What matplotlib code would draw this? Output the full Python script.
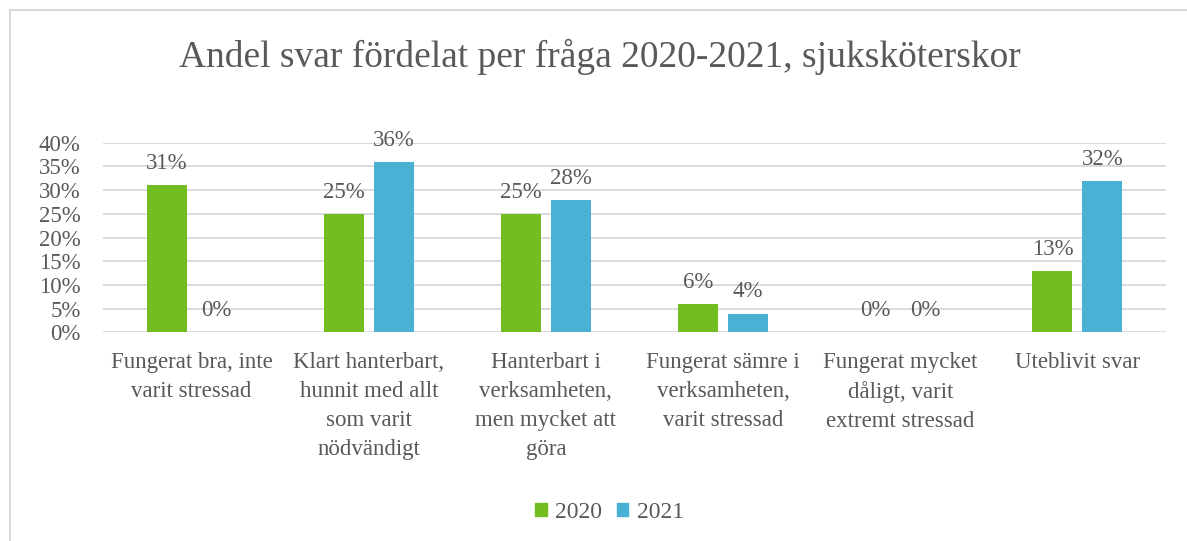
import matplotlib.pyplot as plt
from matplotlib.lines import Line2D
from matplotlib.patches import Patch
import numpy as np

plt.rcParams['font.family'] = ['Liberation Serif', 'DejaVu Serif']

categories = [
    "Fungerat bra, inte\nvarit stressad",
    "Klart hanterbart,\nhunnit med allt\nsom varit\nnödvändigt",
    "Hanterbart i\nverksamheten,\nmen mycket att\ngöra",
    "Fungerat sämre i\nverksamheten,\nvarit stressad",
    "Fungerat mycket\ndåligt, varit\nextremt stressad",
    "Uteblivit svar",
]
values_2020 = [31, 25, 25, 6, 0, 13]
values_2021 = [0, 36, 28, 4, 0, 32]
years = ["2020", "2021"]
yticks = [0, 5, 10, 15, 20, 25, 30, 35, 40]

green = "#74BD21"
blue = "#4BB1D4"
grey_text = "#595959"
grid_col = "#D9D9D9"
fs = 16.5

fig = plt.figure(figsize=(11.87, 5.41), dpi=100)
ax = fig.add_axes([0.0868, 0.3854, 0.8955, 0.3508])

x = np.arange(len(categories))
w = 0.226
off = 0.141
b1 = ax.bar(x - off, values_2020, w, color=green, zorder=3)
b2 = ax.bar(x + off, values_2021, w, color=blue, zorder=3)

for bars, vals in [(b1, values_2020), (b2, values_2021)]:
    for rect, v in zip(bars, vals):
        ax.annotate(f"{v}%", (rect.get_x() + rect.get_width() / 2, v),
                    xytext=(0, 8), textcoords="offset points",
                    ha="center", va="bottom", fontsize=fs, color=grey_text)

ax.set_xlim(-0.5, len(categories) - 0.5)
ax.set_ylim(0, 40)
ax.set_yticks(yticks)
ax.set_yticklabels([f"{t}%" for t in yticks], fontsize=fs, color=grey_text)
ax.set_xticks(x)
ax.set_xticklabels(categories, fontsize=fs, color=grey_text, linespacing=1.5, va="top")
ax.tick_params(axis="both", length=0)
ax.tick_params(axis="x", pad=14)
ax.tick_params(axis="y", pad=16)
ax.grid(axis="y", color=grid_col, linewidth=1.3, zorder=0)
for s in ax.spines.values():
    s.set_visible(False)

fig.text(0.505, 0.895, "Andel svar fördelat per fråga 2020-2021, sjuksköterskor",
         ha="center", va="center", fontsize=27, color=grey_text)

handles = [Patch(color=green), Patch(color=blue)]
fig.legend(handles, years, loc="center", bbox_to_anchor=(0.5135, 0.053), ncol=2,
           frameon=False, fontsize=17, handlelength=0.5, handleheight=0.5,
           handletextpad=0.35, columnspacing=0.6, labelcolor=grey_text)

# chart border (left and top edges visible)
fig.add_artist(Line2D([10 / 1187, 10 / 1187], [0, 1 - 10 / 541], color=grid_col, linewidth=1.5))
fig.add_artist(Line2D([10 / 1187, 1], [1 - 10 / 541, 1 - 10 / 541], color=grid_col, linewidth=1.5))

fig.savefig("out.png", dpi=100)
